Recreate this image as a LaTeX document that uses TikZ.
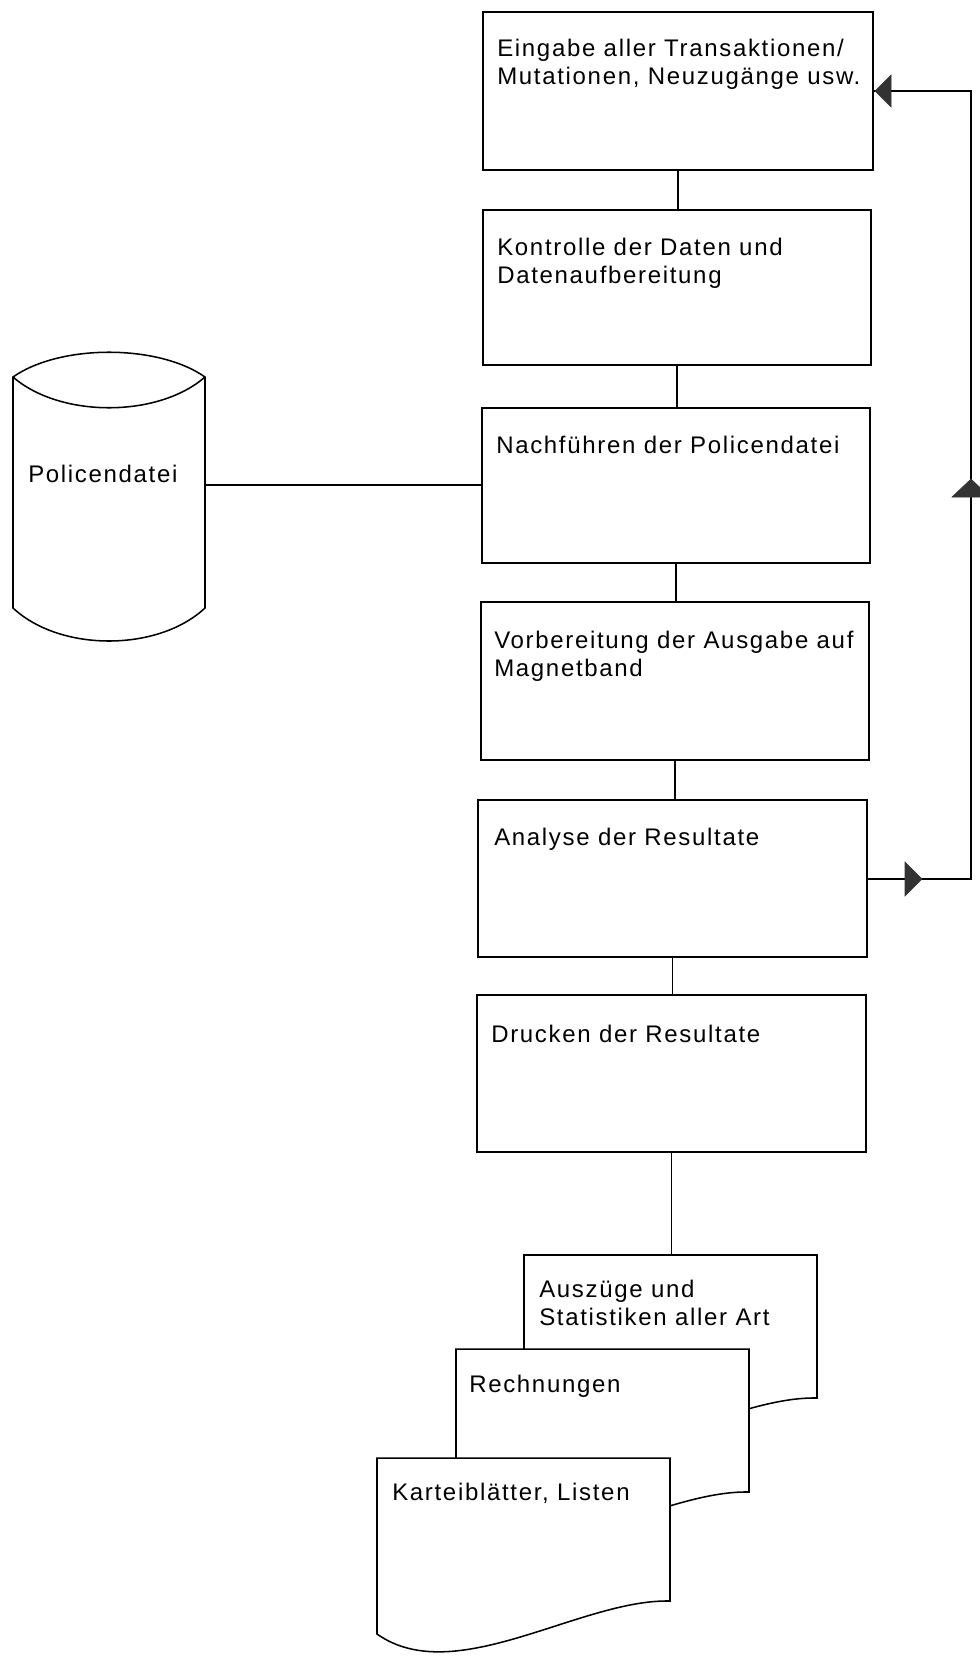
\documentclass[tikz,border=0pt]{standalone}
\usepackage{fontspec}
\setmainfont{Liberation Sans}[LetterSpace=7]
\usetikzlibrary{fit}
\newcommand{\stack}[1]{\begin{tabular}[t]{@{}l@{}}#1\end{tabular}}
\begin{document}
\begin{tikzpicture}[x=0.75pt,y=-0.75pt,
  line/.style={line width=1.15pt, draw=black},
  box/.style={draw=black, line width=1.15pt, inner sep=0pt},
  ghost/.style={inner sep=0pt},
  lbl/.style={anchor=base west, inner sep=0pt, font=\fontsize{18}{21}\selectfont},
  tipfill/.style={fill=black!80, draw=black!80, line width=0.4pt}]
\useasboundingbox (0,0) rectangle (980,1666);

% process boxes
\node[box, fit={(483,12) (873,170)}] (b1) {};
\node[box, fit={(483,210) (871,365)}] (b2) {};
\node[box, fit={(482,408) (870,563)}] (b3) {};
\node[box, fit={(481,602) (869,760)}] (b4) {};
\node[box, fit={(478,800) (867,957)}] (b5) {};
\node[box, fit={(477,995) (866,1152)}] (b6) {};

\node[lbl] (t1) at (497,57) {\stack{Eingabe aller Transaktionen/\\Mutationen, Neuzugänge usw.}};
\node[lbl] (t2) at (497,255) {\stack{Kontrolle der Daten und\\Datenaufbereitung}};
\node[lbl] (t3) at (496,453) {Nachführen der Policendatei};
\node[lbl] (t4) at (494,648) {\stack{Vorbereitung der Ausgabe auf\\Magnetband}};
\node[lbl] (t5) at (494,845) {Analyse der Resultate};
\node[lbl] (t6) at (491,1042) {Drucken der Resultate};

% vertical connectors
\draw[line] (b1.south) -- (b1.south |- b2.north);
\draw[line] (b2.south) -- (b2.south |- b3.north);
\draw[line] (b3.south) -- (b3.south |- b4.north);
\draw[line] (b4.south) -- (b4.south |- b5.north);
\draw[line] (b5.south) -- (b5.south |- b6.north);

% storage cylinder
\node[ghost, fit={(13,352) (205,641)}] (cyl) {};
\draw[line, fill=white] (13,377) .. controls (60,344) and (158,344) .. (205,377)
  -- (205,608) .. controls (158,652) and (60,652) .. (13,608) -- cycle;
\draw[line] (13,377) .. controls (60,418) and (158,418) .. (205,377);
\node[lbl] (tc) at (28,482) {Policendatei};
\coordinate (cylr) at (205,485);
\draw[line] (cylr) -- (cylr -| b3.west);

% feedback loop
\coordinate (fbbot) at (971,879);
\coordinate (fbtop) at (971,91);
\draw[line] (b5.east |- fbbot) -- (fbbot) -- (fbtop) -- (fbtop -| b1.east);
\filldraw[tipfill] (922,879) -- (905,862) -- (905,896) -- cycle;
\filldraw[tipfill] (971,479) -- (952,497) -- (990,497) -- cycle;
\filldraw[tipfill] (875,91) -- (891,75) -- (891,107) -- cycle;

% documents
\node[ghost, fit={(524,1255) (817,1398)}] (d1) {};
\node[ghost, fit={(456,1349) (749,1492)}] (d2) {};
\node[ghost, fit={(377,1458) (670,1601)}] (d3) {};
\draw[line] (b6.south) -- (b6.south |- d1.north);

\begin{scope}[shift={(524,1255)}]
\filldraw[line, fill=white] (0,0) -- (293,0) -- (293,143)
  .. controls (203,141) and (78,231) .. (0,176) -- cycle;
\end{scope}
\node[lbl] (td1) at (539,1297) {\stack{Auszüge und\\Statistiken aller Art}};

\begin{scope}[shift={(456,1349)}]
\filldraw[line, fill=white] (0,0) -- (293,0) -- (293,143)
  .. controls (203,141) and (78,231) .. (0,176) -- cycle;
\end{scope}
\node[lbl] (td2) at (469,1392) {Rechnungen};

\begin{scope}[shift={(377,1458)}]
\filldraw[line, fill=white] (0,0) -- (293,0) -- (293,143)
  .. controls (203,141) and (78,231) .. (0,176) -- cycle;
\end{scope}
\node[lbl] (td3) at (392,1500) {Karteiblätter, Listen};
\end{tikzpicture}
\end{document}
